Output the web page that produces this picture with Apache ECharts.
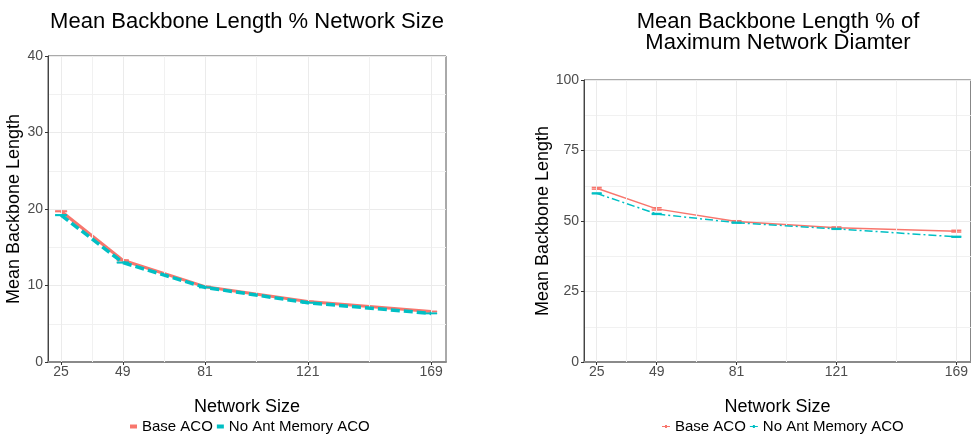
<!DOCTYPE html>
<html>
<head>
<meta charset="utf-8">
<script src="https://cdn.jsdelivr.net/npm/echarts@6/dist/echarts.min.js"></script>
<style>html,body{margin:0;padding:0;background:#fff;}#c{width:971px;height:438px;}</style>
</head>
<body>
<div id="c"></div>
<script>
const sizes = [25, 49, 81, 121, 169];
const xMajor = [25, 49, 81, 121, 169];
const xMinor = [37, 65, 101, 145];
const seriesNames = ['Base ACO', 'No Ant Memory ACO'];
const leftBase = [19.7, 13.3, 9.85, 7.9, 6.6];
const leftNoMem = [19.2, 13.0, 9.75, 7.75, 6.35];
const leftBaseErr = [0.04, 0.04, 0.03, 0.02, 0.02];
const leftNoMemErr = [0.04, 0.04, 0.03, 0.02, 0.02];
const rightBase = [61.6, 54.3, 49.8, 47.6, 46.4];
const rightNoMem = [59.8, 52.5, 49.4, 47.2, 44.4];
const rightBaseErr = [0.3, 0.4, 0.3, 0.3, 0.3];
const rightNoMemErr = [0.15, 0.15, 0.15, 0.15, 0.15];
const titles = ['Mean Backbone Length % Network Size', 'Mean Backbone Length % of\nMaximum Network Diamter'];
const xTitle = 'Network Size';
const yTitle = 'Mean Backbone Length';

const RED = '#F8766D', TEAL = '#00BFC4';
const FONT = "'Liberation Sans', Arial, sans-serif";

function pts(vals) { return sizes.map((s, i) => [s, vals[i]]); }
function errs(vals, e) { return sizes.map((s, i) => [s, vals[i] - e[i], vals[i] + e[i]]); }

function renderErr(lw, hw) {
  return function (params, api) {
    const x = api.value(0), lo = api.value(1), hi = api.value(2);
    const p1 = api.coord([x, lo]), p2 = api.coord([x, hi]);
    const style = { stroke: api.visual('color'), lineWidth: lw, opacity: api.visual('opacity') };
    return {
      type: 'group', children: [
        { type: 'line', shape: { x1: p1[0], y1: p1[1], x2: p2[0], y2: p2[1] }, style: style },
        { type: 'line', shape: { x1: p1[0] - hw, y1: p1[1], x2: p1[0] + hw, y2: p1[1] }, style: style },
        { type: 'line', shape: { x1: p2[0] - hw, y1: p2[1], x2: p2[0] + hw, y2: p2[1] }, style: style }
      ]
    };
  };
}

function xAxisOpt(gi) {
  return {
    type: 'value', gridIndex: gi, min: 19.9, max: 174.8,
    name: xTitle, nameLocation: 'middle', nameGap: 36,
    nameTextStyle: { fontSize: 18, color: '#000', fontFamily: FONT },
    axisLine: { show: true, onZero: false, lineStyle: { color: '#8a8a8a', width: 2 } },
    axisTick: { show: true, length: 3, customValues: xMajor, lineStyle: { color: '#333' } },
    axisLabel: { customValues: xMajor, margin: 3, fontSize: 14, color: '#4d4d4d', fontFamily: FONT },
    splitLine: { show: false }
  };
}
function yAxisOpt(gi, max, interval, gap) {
  return {
    type: 'value', gridIndex: gi, min: 0, max: max, interval: interval,
    name: yTitle, nameLocation: 'middle', nameGap: gap,
    nameTextStyle: { fontSize: 18, color: '#000', fontFamily: FONT },
    axisLine: { show: true, lineStyle: { color: '#444', width: 1 } },
    axisTick: { show: true, length: 3, lineStyle: { color: '#333' } },
    axisLabel: { margin: 5, fontSize: 14, color: '#4d4d4d', fontFamily: FONT },
    splitLine: { show: true, lineStyle: { color: '#ebebeb', width: 1 } },
    minorTick: { show: false, splitNumber: 2 },
    minorSplitLine: { show: true, lineStyle: { color: '#f1f1f1', width: 1 } }
  };
}
function vGrid(xi, yi) {
  const data = xMajor.map(v => ({ xAxis: v, lineStyle: { color: '#ebebeb', width: 1, type: 'solid' } }))
    .concat(xMinor.map(v => ({ xAxis: v, lineStyle: { color: '#f1f1f1', width: 1, type: 'solid' } })));
  return {
    type: 'line', name: 'vgrid' + xi, xAxisIndex: xi, yAxisIndex: yi, data: [], z: 1,
    markLine: { silent: true, symbol: ['none', 'none'], label: { show: false }, animation: false, data: data }
  };
}

const chart = echarts.init(document.getElementById('c'), null, { renderer: 'canvas' });
chart.setOption({
  animation: false,
  backgroundColor: '#fff',
  textStyle: { fontFamily: FONT },
  title: [
    { text: titles[0], left: 247, top: 11, textAlign: 'center', padding: 0,
      textStyle: { fontSize: 22, fontWeight: 'normal', color: '#000', lineHeight: 21, fontFamily: FONT } },
    { text: titles[1], left: 778, top: 11, textAlign: 'center', padding: 0,
      textStyle: { fontSize: 22, fontWeight: 'normal', color: '#000', lineHeight: 21, fontFamily: FONT } }
  ],
  grid: [
    { left: 48, top: 56, width: 398, height: 306, show: true, borderColor: '#555', borderWidth: 1, backgroundColor: '#fff', containLabel: false },
    { left: 584, top: 80, width: 388, height: 282, show: true, borderColor: '#555', borderWidth: 1, backgroundColor: '#fff', containLabel: false }
  ],
  xAxis: [xAxisOpt(0), xAxisOpt(1)],
  yAxis: [yAxisOpt(0, 40, 10, 22), yAxisOpt(1, 100, 25, 30)],
  legend: [
    { data: seriesNames, left: 130, top: 419, icon: 'rect', itemWidth: 7, itemHeight: 4, itemGap: 4, padding: 0,
      itemStyle: { borderWidth: 0 }, textStyle: { fontSize: 15, color: '#000', fontFamily: FONT }, selectedMode: false },
    { data: seriesNames, left: 662, top: 419, icon: 'path://M0,1h3v-1h2v1h3v1h-3v1h-2v-1h-3z',
      itemWidth: 8, itemHeight: 3, itemGap: 4, padding: 0,
      itemStyle: { borderWidth: 0 }, textStyle: { fontSize: 15, color: '#000', fontFamily: FONT }, selectedMode: false }
  ],
  series: [
    vGrid(0, 0),
    vGrid(1, 1),
    { type: 'custom', name: 'errL0', xAxisIndex: 0, yAxisIndex: 0, data: errs(leftBase, leftBaseErr), renderItem: renderErr(1.5, 6), itemStyle: { color: RED }, encode: { x: 0, y: [1, 2] }, z: 3, silent: true },
    { type: 'line', name: seriesNames[0], xAxisIndex: 0, yAxisIndex: 0, data: pts(leftBase), symbol: 'none', color: RED,
      lineStyle: { color: RED, width: 3 }, z: 4 },
    { type: 'custom', name: 'errL1', xAxisIndex: 0, yAxisIndex: 0, data: errs(leftNoMem, leftNoMemErr), renderItem: renderErr(1.5, 6), itemStyle: { color: TEAL }, encode: { x: 0, y: [1, 2] }, z: 5, silent: true },
    { type: 'line', name: seriesNames[1], xAxisIndex: 0, yAxisIndex: 0, data: pts(leftNoMem), symbol: 'none', color: TEAL,
      lineStyle: { color: TEAL, width: 3.5, type: [9, 4] }, z: 6 },
    { type: 'custom', name: 'errR0', xAxisIndex: 1, yAxisIndex: 1, data: errs(rightBase, rightBaseErr), renderItem: renderErr(1.5, 5), itemStyle: { color: RED, opacity: 0.75 }, encode: { x: 0, y: [1, 2] }, z: 3, silent: true },
    { type: 'line', name: seriesNames[0], xAxisIndex: 1, yAxisIndex: 1, data: pts(rightBase), symbol: 'none', color: RED,
      lineStyle: { color: RED, width: 1.5 }, z: 4 },
    { type: 'custom', name: 'errR1', xAxisIndex: 1, yAxisIndex: 1, data: errs(rightNoMem, rightNoMemErr), renderItem: renderErr(1.5, 5), itemStyle: { color: TEAL, opacity: 0.75 }, encode: { x: 0, y: [1, 2] }, z: 5, silent: true },
    { type: 'line', name: seriesNames[1], xAxisIndex: 1, yAxisIndex: 1, data: pts(rightNoMem), symbol: 'none', color: TEAL,
      lineStyle: { color: TEAL, width: 1.5, type: [8, 3, 2, 3] }, z: 6 }
  ]
});
</script>
</body>
</html>
